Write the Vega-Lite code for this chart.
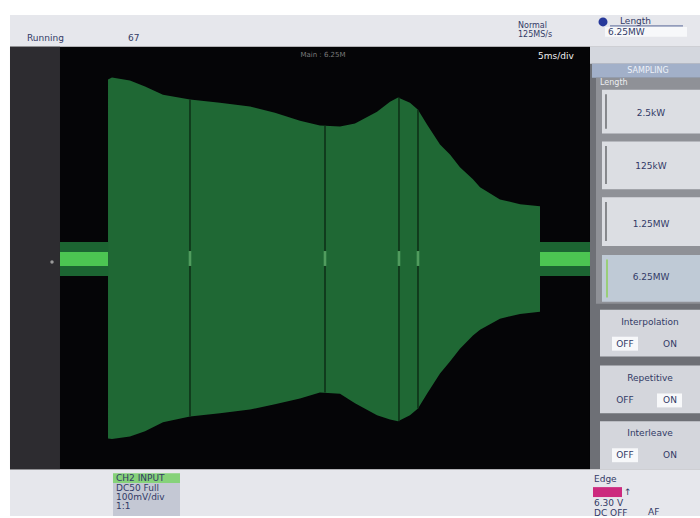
{
  "$schema": "https://vega.github.io/schema/vega-lite/v6.json",
  "width": 700,
  "height": 518,
  "autosize": {"type": "fit", "contains": "padding"},
  "padding": 0,
  "background": "#ffffff",
  "config": {"view": {"stroke": null}},
  "datasets": {
    "panels": [
      {"part": "bar", "t": -25, "t2": 34.483, "v": 4.0, "v2": 4.604},
      {"part": "bar", "t": -25, "t2": 34.483, "v": -4.887, "v2": -4.0},
      {"part": "screen", "t": -25, "t2": 25, "v": -4, "v2": 4},
      {"part": "strip", "t": -25, "t2": -20.69, "v": -4, "v2": 4},
      {"part": "panel", "t": 25, "t2": 34.483, "v": -4, "v2": 4},
      {"part": "paneltop", "t": 25, "t2": 34.483, "v": 3.679, "v2": 4.0},
      {"part": "header", "t": 25.172, "t2": 34.483, "v": 3.415, "v2": 3.679},
      {"part": "frame", "t": 25.517, "t2": 34.483, "v": -0.868, "v2": 3.415},
      {"part": "button", "t": 26.034, "t2": 34.483, "v": 2.358, "v2": 3.189},
      {"part": "button", "t": 26.034, "t2": 34.483, "v": 1.302, "v2": 2.208},
      {"part": "button", "t": 26.034, "t2": 34.483, "v": 0.226, "v2": 1.151},
      {"part": "selected", "t": 26.034, "t2": 34.483, "v": -0.83, "v2": 0.057},
      {"part": "box", "t": 25.862, "t2": 34.483, "v": -1.868, "v2": -0.981},
      {"part": "box", "t": 25.862, "t2": 34.483, "v": -2.943, "v2": -2.038},
      {"part": "box", "t": 25.862, "t2": 34.483, "v": -4.0, "v2": -3.094},
      {"part": "hl", "t": 26.897, "t2": 29.138, "v": -1.755, "v2": -1.491},
      {"part": "hl", "t": 30.776, "t2": 32.931, "v": -2.83, "v2": -2.566},
      {"part": "hl", "t": 26.897, "t2": 29.138, "v": -3.868, "v2": -3.604},
      {"part": "hl", "t": 26.293, "t2": 33.362, "v": 4.189, "v2": 4.377},
      {"part": "chgreen", "t": -16.121, "t2": -10.345, "v": -4.264, "v2": -4.075},
      {"part": "chgray", "t": -16.121, "t2": -10.345, "v": -4.887, "v2": -4.264},
      {"part": "magenta", "t": 25.259, "t2": 27.759, "v": -4.528, "v2": -4.34},
      {"part": "bandouter", "t": -20.69, "t2": -16.55, "v": -0.34, "v2": 0.302},
      {"part": "bandinner", "t": -20.69, "t2": -16.55, "v": -0.151, "v2": 0.113},
      {"part": "bandouter", "t": 20.69, "t2": 25, "v": -0.34, "v2": 0.302},
      {"part": "bandinner", "t": 20.69, "t2": 25, "v": -0.151, "v2": 0.113}
    ],
    "envelope": [
      {"t": -16.55, "v": 3.38, "v2": -3.42},
      {"t": -16.21, "v": 3.42, "v2": -3.43},
      {"t": -14.66, "v": 3.36, "v2": -3.38},
      {"t": -13.36, "v": 3.25, "v2": -3.28},
      {"t": -11.81, "v": 3.09, "v2": -3.11},
      {"t": -9.48, "v": 3.0, "v2": -3.0},
      {"t": -6.9, "v": 2.94, "v2": -2.94},
      {"t": -4.31, "v": 2.87, "v2": -2.87},
      {"t": -2.16, "v": 2.75, "v2": -2.77},
      {"t": 0, "v": 2.6, "v2": -2.66},
      {"t": 1.72, "v": 2.51, "v2": -2.55},
      {"t": 3.45, "v": 2.49, "v2": -2.57},
      {"t": 4.74, "v": 2.55, "v2": -2.75},
      {"t": 6.64, "v": 2.77, "v2": -2.98},
      {"t": 7.76, "v": 2.96, "v2": -3.06},
      {"t": 8.45, "v": 3.04, "v2": -3.09},
      {"t": 9.48, "v": 2.94, "v2": -2.98},
      {"t": 10.17, "v": 2.81, "v2": -2.85},
      {"t": 10.95, "v": 2.53, "v2": -2.57},
      {"t": 12.07, "v": 2.15, "v2": -2.19},
      {"t": 12.93, "v": 1.96, "v2": -1.96},
      {"t": 13.79, "v": 1.72, "v2": -1.72},
      {"t": 14.91, "v": 1.49, "v2": -1.47},
      {"t": 15.52, "v": 1.34, "v2": -1.36},
      {"t": 17.24, "v": 1.11, "v2": -1.15},
      {"t": 18.97, "v": 1.02, "v2": -1.06},
      {"t": 20.69, "v": 0.98, "v2": -1.02}
    ],
    "markers": [
      {"t": -9.483, "v": 3.0, "v2": -3.0},
      {"t": 2.155, "v": 2.51, "v2": -2.55},
      {"t": 8.534, "v": 3.04, "v2": -3.09},
      {"t": 10.172, "v": 2.81, "v2": -2.85}
    ],
    "spots": [
      {"t": -9.483, "v": 0.132, "v2": -0.151},
      {"t": 2.155, "v": 0.132, "v2": -0.151},
      {"t": 8.534, "v": 0.132, "v2": -0.151},
      {"t": 10.172, "v": 0.132, "v2": -0.151}
    ],
    "edges": [
      {"kind": "plain", "t": 26.379, "v": 2.45, "v2": 3.1},
      {"kind": "plain", "t": 26.379, "v": 1.4, "v2": 2.12},
      {"kind": "plain", "t": 26.379, "v": 0.32, "v2": 1.06},
      {"kind": "sel", "t": 26.466, "v": -0.75, "v2": -0.03}
    ],
    "underline": [
      {"t": 26.724, "t2": 33.017, "v": 4.396}
    ],
    "dots": [
      {"part": "ground", "t": -21.379, "v": -0.075},
      {"part": "ball", "t": 26.121, "v": 4.472}
    ],
    "texts": [
      {"g": "ui", "label": "Running", "t": -23.534, "v": 4.17},
      {"g": "ui", "label": "67", "t": -14.828, "v": 4.17},
      {"g": "small", "label": "Normal", "t": 18.793, "v": 4.396},
      {"g": "small", "label": "125MS/s", "t": 18.793, "v": 4.226},
      {"g": "ui", "label": "Length", "t": 27.586, "v": 4.491},
      {"g": "ui", "label": "6.25MW", "t": 26.552, "v": 4.283},
      {"g": "dim", "label": "Main : 6.25M", "t": 1.983, "v": 3.849},
      {"g": "scr", "label": "5ms/div", "t": 20.517, "v": 3.83},
      {"g": "hdr", "label": "SAMPLING", "t": 30.0, "v": 3.547},
      {"g": "lbl", "label": "Length", "t": 25.862, "v": 3.321},
      {"g": "uic", "label": "2.5kW", "t": 30.259, "v": 2.755},
      {"g": "uic", "label": "125kW", "t": 30.259, "v": 1.736},
      {"g": "uic", "label": "1.25MW", "t": 30.259, "v": 0.642},
      {"g": "uic", "label": "6.25MW", "t": 30.259, "v": -0.358},
      {"g": "uic", "label": "Interpolation", "t": 30.172, "v": -1.208},
      {"g": "uic", "label": "OFF", "t": 28.017, "v": -1.623},
      {"g": "uic", "label": "ON", "t": 31.897, "v": -1.623},
      {"g": "uic", "label": "Repetitive", "t": 30.172, "v": -2.264},
      {"g": "uic", "label": "OFF", "t": 28.017, "v": -2.698},
      {"g": "uic", "label": "ON", "t": 31.897, "v": -2.698},
      {"g": "uic", "label": "Interleave", "t": 30.172, "v": -3.321},
      {"g": "uic", "label": "OFF", "t": 28.017, "v": -3.736},
      {"g": "uic", "label": "ON", "t": 31.897, "v": -3.736},
      {"g": "ui", "label": "CH2 INPUT", "t": -15.862, "v": -4.17},
      {"g": "ui", "label": "DC50 Full", "t": -15.862, "v": -4.358},
      {"g": "ui", "label": "100mV/div", "t": -15.862, "v": -4.528},
      {"g": "ui", "label": "1:1", "t": -15.862, "v": -4.698},
      {"g": "ui", "label": "Edge", "t": 25.345, "v": -4.189},
      {"g": "ui", "label": "↑", "t": 27.931, "v": -4.434},
      {"g": "ui", "label": "6.30 V", "t": 25.345, "v": -4.642},
      {"g": "ui", "label": "DC OFF", "t": 25.345, "v": -4.83},
      {"g": "ui", "label": "AF", "t": 30.0, "v": -4.811}
    ]
  },
  "encoding": {
    "x": {"field": "t", "type": "quantitative", "scale": {"domain": [-25.862, 34.483], "nice": false, "zero": false}, "axis": null},
    "y": {"field": "v", "type": "quantitative", "scale": {"domain": [-4.887, 4.887], "nice": false, "zero": false}, "axis": null}
  },
  "layer": [
    {
      "data": {"name": "panels"},
      "mark": {"type": "rect"},
      "encoding": {
        "x2": {"field": "t2"},
        "y2": {"field": "v2"},
        "color": {
          "field": "part", "type": "nominal", "legend": null,
          "scale": {
            "domain": ["bar", "screen", "strip", "panel", "paneltop", "header", "frame", "button", "selected", "box", "hl", "chgreen", "chgray", "magenta", "bandouter", "bandinner"],
            "range": ["#e6e7ec", "#050507", "#2d2c30", "#6e7076", "#d4d7de", "#a2b0c9", "#8f9197", "#dcdee3", "#bfcad6", "#d4d6dc", "#f7f8fa", "#86d27a", "#c4c8d4", "#cc2a7e", "#1c6532", "#4cc552"]
          }
        }
      }
    },
    {
      "data": {"name": "envelope"},
      "mark": {"type": "area", "color": "#1f6834", "interpolate": "linear"},
      "encoding": {"y2": {"field": "v2"}}
    },
    {
      "data": {"name": "markers"},
      "mark": {"type": "rule", "color": "#0d2e16", "strokeWidth": 1.5},
      "encoding": {"y2": {"field": "v2"}}
    },
    {
      "data": {"name": "spots"},
      "mark": {"type": "rule", "color": "#7ddc8a", "strokeWidth": 2.5, "opacity": 0.6},
      "encoding": {"y2": {"field": "v2"}}
    },
    {
      "data": {"name": "edges"},
      "transform": [{"filter": "datum.kind == 'plain'"}],
      "mark": {"type": "rule", "color": "#6a6c70", "strokeWidth": 1.5},
      "encoding": {"y2": {"field": "v2"}}
    },
    {
      "data": {"name": "edges"},
      "transform": [{"filter": "datum.kind == 'sel'"}],
      "mark": {"type": "rule", "color": "#8ccf5a", "strokeWidth": 1.5},
      "encoding": {"y2": {"field": "v2"}}
    },
    {
      "data": {"name": "underline"},
      "mark": {"type": "rule", "color": "#5a6a9a", "strokeWidth": 1},
      "encoding": {"x2": {"field": "t2"}}
    },
    {
      "data": {"name": "dots"},
      "mark": {"type": "circle", "opacity": 1},
      "encoding": {
        "size": {"field": "part", "type": "nominal", "legend": null, "scale": {"domain": ["ground", "ball"], "range": [12, 80]}},
        "color": {"field": "part", "type": "nominal", "legend": null, "scale": {"domain": ["ground", "ball"], "range": ["#9a9a9a", "#27399a"]}}
      }
    },
    {
      "data": {"name": "texts"},
      "transform": [{"filter": "datum.g == 'ui'"}],
      "mark": {"type": "text", "align": "left", "baseline": "middle", "font": "DejaVu Sans", "fontSize": 9, "color": "#323a66"},
      "encoding": {"text": {"field": "label"}}
    },
    {
      "data": {"name": "texts"},
      "transform": [{"filter": "datum.g == 'small'"}],
      "mark": {"type": "text", "align": "left", "baseline": "middle", "font": "DejaVu Sans", "fontSize": 8, "color": "#323a66"},
      "encoding": {"text": {"field": "label"}}
    },
    {
      "data": {"name": "texts"},
      "transform": [{"filter": "datum.g == 'uic'"}],
      "mark": {"type": "text", "align": "center", "baseline": "middle", "font": "DejaVu Sans", "fontSize": 9, "color": "#323a66"},
      "encoding": {"text": {"field": "label"}}
    },
    {
      "data": {"name": "texts"},
      "transform": [{"filter": "datum.g == 'scr'"}],
      "mark": {"type": "text", "align": "left", "baseline": "middle", "font": "DejaVu Sans", "fontSize": 9, "color": "#f0f0f0"},
      "encoding": {"text": {"field": "label"}}
    },
    {
      "data": {"name": "texts"},
      "transform": [{"filter": "datum.g == 'dim'"}],
      "mark": {"type": "text", "align": "center", "baseline": "middle", "font": "DejaVu Sans", "fontSize": 7, "color": "#7a7a7a"},
      "encoding": {"text": {"field": "label"}}
    },
    {
      "data": {"name": "texts"},
      "transform": [{"filter": "datum.g == 'hdr'"}],
      "mark": {"type": "text", "align": "center", "baseline": "middle", "font": "DejaVu Sans", "fontSize": 8, "color": "#eef2fa"},
      "encoding": {"text": {"field": "label"}}
    },
    {
      "data": {"name": "texts"},
      "transform": [{"filter": "datum.g == 'lbl'"}],
      "mark": {"type": "text", "align": "left", "baseline": "middle", "font": "DejaVu Sans", "fontSize": 8, "color": "#eceef2"},
      "encoding": {"text": {"field": "label"}}
    }
  ],
  "resolve": {"scale": {"color": "independent", "size": "independent"}}
}
